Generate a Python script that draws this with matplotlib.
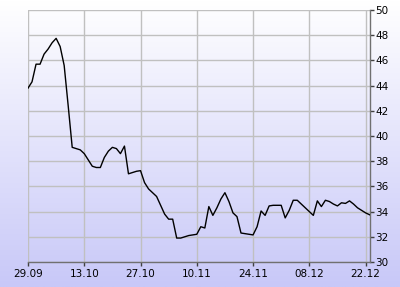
import numpy as np
import matplotlib
matplotlib.use("Agg")
import matplotlib.pyplot as plt

# day offsets from 29.09
days = list(range(0, 86))
values = [43.8, 44.3, 45.7, 45.7, 46.5, 46.9, 47.4, 47.75, 47.1, 45.6,
          42.4, 39.1, 39.0, 38.9, 38.6, 38.1, 37.6, 37.5, 37.5, 38.3,
          38.8, 39.1, 39.0, 38.6, 39.2, 37.0, 37.1, 37.2, 37.25, 36.3,
          35.8, 35.5, 35.2, 34.5, 33.8, 33.4, 33.4, 31.9, 31.9, 32.0,
          32.1, 32.15, 32.2, 32.8, 32.7, 34.4, 33.7, 34.3, 35.0, 35.5,
          34.8, 33.9, 33.6, 32.3, 32.25, 32.2, 32.15, 32.8, 34.05, 33.7,
          34.45, 34.5, 34.5, 34.5, 33.5, 34.1, 34.9, 34.9, 34.6, 34.3,
          34.0, 33.7, 34.85, 34.4, 34.9, 34.8, 34.6, 34.45, 34.7, 34.65,
          34.85, 34.6, 34.3, 34.1, 33.9, 33.75]
tick_days = [0, 14, 28, 42, 56, 70, 84]
tick_labels = ["29.09", "13.10", "27.10", "10.11", "24.11", "08.12", "22.12"]
y_ticks = [30, 32, 34, 36, 38, 40, 42, 44, 46, 48, 50]

fig = plt.figure(figsize=(4.0, 2.87), dpi=100)
bg = fig.add_axes([0, 0, 1, 1], zorder=0)
grad = np.linspace(0, 1, 256).reshape(-1, 1)
top = np.array([1.0, 1.0, 1.0])
bot = np.array([200, 200, 248]) / 255.0
img = top[None, None, :] * (1 - grad[:, :, None]) + bot[None, None, :] * grad[:, :, None]
bg.imshow(img, aspect="auto", extent=[0, 1, 0, 1])
bg.set_axis_off()

ax = fig.add_axes([28/400, 1 - 262/287, (370-28)/400, (262-10)/287], zorder=1)
ax.patch.set_alpha(0)
ax.plot(days, values, color="black", lw=1.0, zorder=3)
ax.set_xlim(0, 85.1)
ax.set_ylim(30, 50)
ax.set_xticks(tick_days)
ax.set_xticklabels(tick_labels)
ax.set_yticks(y_ticks)
ax.yaxis.tick_right()
ax.grid(True, color="#c0c0c0", lw=1.0, zorder=1)
for s in ["top", "left"]:
    ax.spines[s].set_visible(False)
for s in ["bottom", "right"]:
    ax.spines[s].set_color("#707070")
    ax.spines[s].set_linewidth(1.0)
ax.tick_params(axis="both", colors="#404040", labelcolor="black",
               labelsize=7.5, length=3, width=1, pad=1)
ax.tick_params(axis="x", pad=2)
fig.savefig("out.png", dpi=100)
